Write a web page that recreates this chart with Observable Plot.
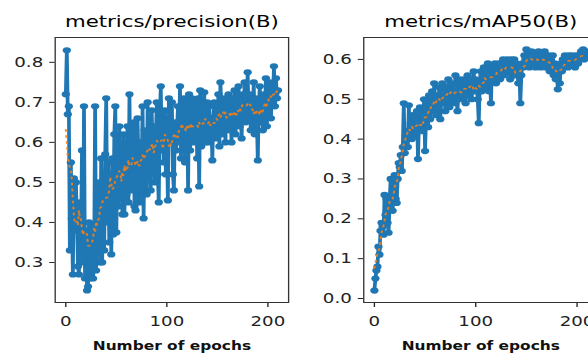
<!DOCTYPE html>
<html>
<head>
<meta charset="utf-8">
<script src="https://cdn.jsdelivr.net/npm/d3@7"></script>
<script src="https://cdn.jsdelivr.net/npm/@observablehq/plot@0.6"></script>
<style>
  html, body { margin: 0; padding: 0; background: #fff; overflow: hidden; width: 588px; height: 358px; }
  #wrap { position: absolute; left: 0; top: 0; width: 480px; height: 358px; transform: scaleX(1.33); transform-origin: 0 0; }
  .panel { position: absolute; top: 0; width: 230px; height: 358px; }
  .panel svg { max-width: none !important; }
</style>
</head>
<body>
<div id="wrap">
  <div class="panel" id="p1" style="left:0px"></div>
  <div class="panel" id="p2" style="left:230px"></div>
</div>
<script>
const titles = ["metrics/precision(B)", "metrics/mAP50(B)"];
const xLabel = "Number of epochs";
const xTicks = [0, 100, 200];
const precisionTicks = [0.3, 0.4, 0.5, 0.6, 0.7, 0.8];
const map50Ticks = [0.0, 0.1, 0.2, 0.3, 0.4, 0.5, 0.6];

const precision = [
  0.72, 0.83, 0.67, 0.69, 0.33, 0.55, 0.41, 0.27, 0.51, 0.38,
  0.50, 0.41, 0.29, 0.27, 0.45, 0.36, 0.58, 0.30, 0.69, 0.26,
  0.38, 0.23, 0.24, 0.40, 0.26, 0.39, 0.35, 0.26, 0.30, 0.69,
  0.28, 0.45, 0.35, 0.50, 0.30, 0.56, 0.30, 0.47, 0.33, 0.57,
  0.71, 0.40, 0.55, 0.35, 0.52, 0.32, 0.56, 0.37, 0.62, 0.69,
  0.375, 0.55, 0.44, 0.64, 0.46, 0.58, 0.42, 0.62, 0.42, 0.55,
  0.47, 0.64, 0.45, 0.72, 0.48, 0.60, 0.52, 0.65, 0.44, 0.43,
  0.58, 0.66, 0.55, 0.45, 0.60, 0.52, 0.69, 0.41, 0.63, 0.57,
  0.47, 0.70, 0.55, 0.62, 0.48, 0.68, 0.58, 0.64, 0.50, 0.60,
  0.70, 0.52, 0.45, 0.66, 0.74, 0.58, 0.64, 0.55, 0.68, 0.52,
  0.62, 0.455, 0.71, 0.66, 0.60, 0.70, 0.52, 0.48, 0.65, 0.58,
  0.63, 0.69, 0.60, 0.74, 0.56, 0.67, 0.62, 0.71, 0.55, 0.65,
  0.70, 0.48, 0.72, 0.58, 0.66, 0.71, 0.60, 0.68, 0.64, 0.70,
  0.56, 0.71, 0.49, 0.73, 0.59, 0.68, 0.64, 0.725, 0.60, 0.67,
  0.70, 0.60, 0.69, 0.62, 0.66, 0.555, 0.66, 0.70, 0.61, 0.68,
  0.64, 0.72, 0.59, 0.75, 0.69, 0.62, 0.67, 0.71, 0.60, 0.70,
  0.66, 0.72, 0.63, 0.68, 0.60, 0.71, 0.65, 0.73, 0.62, 0.69,
  0.67, 0.74, 0.64, 0.70, 0.61, 0.72, 0.68, 0.75, 0.65, 0.71,
  0.775, 0.66, 0.72, 0.63, 0.70, 0.68, 0.75, 0.62, 0.71, 0.66,
  0.555, 0.69, 0.74, 0.65, 0.70, 0.63, 0.72, 0.67, 0.76, 0.64,
  0.71, 0.68, 0.75, 0.66, 0.73, 0.70, 0.79, 0.69, 0.76, 0.71, 0.73
];

const map50 = [
  0.02, 0.05, 0.07, 0.08, 0.13, 0.11, 0.17, 0.19, 0.18, 0.16,
  0.26, 0.21, 0.25, 0.19, 0.165, 0.24, 0.30, 0.26, 0.22, 0.27,
  0.31, 0.25, 0.24, 0.30, 0.34, 0.33, 0.36, 0.32, 0.38, 0.49,
  0.365, 0.40, 0.42, 0.38, 0.485, 0.41, 0.44, 0.40, 0.46, 0.43,
  0.45, 0.41, 0.47, 0.35, 0.44, 0.48, 0.43, 0.46, 0.42, 0.50,
  0.37, 0.46, 0.49, 0.43, 0.51, 0.45, 0.48, 0.52, 0.47, 0.54,
  0.49, 0.46, 0.51, 0.48, 0.53, 0.45, 0.50, 0.54, 0.49, 0.52,
  0.47, 0.53, 0.50, 0.55, 0.48, 0.52, 0.51, 0.54, 0.49, 0.53,
  0.56, 0.50, 0.47, 0.52, 0.55, 0.50, 0.53, 0.51, 0.55, 0.52,
  0.49, 0.54, 0.56, 0.51, 0.53, 0.55, 0.50, 0.54, 0.57, 0.52,
  0.55, 0.53, 0.50, 0.44, 0.54, 0.57, 0.52, 0.56, 0.58, 0.53,
  0.57, 0.55, 0.59, 0.52, 0.56, 0.49, 0.58, 0.55, 0.57, 0.59,
  0.54, 0.57, 0.56, 0.59, 0.55, 0.58, 0.57, 0.60, 0.56, 0.59,
  0.58, 0.60, 0.57, 0.59, 0.55, 0.60, 0.58, 0.57, 0.60, 0.56,
  0.59, 0.57, 0.54, 0.58, 0.49, 0.56, 0.59, 0.58, 0.61, 0.60,
  0.625, 0.59, 0.61, 0.58, 0.60, 0.62, 0.59, 0.61, 0.60, 0.58,
  0.61, 0.59, 0.62, 0.60, 0.58, 0.61, 0.59, 0.60, 0.62, 0.58,
  0.60, 0.59, 0.61, 0.57, 0.60, 0.58, 0.61, 0.56, 0.59, 0.55,
  0.58, 0.525, 0.57, 0.54, 0.59, 0.57, 0.60, 0.58, 0.61, 0.59,
  0.60, 0.58, 0.61, 0.59, 0.60, 0.61, 0.59, 0.60, 0.58, 0.61,
  0.60, 0.59, 0.61, 0.60, 0.62, 0.61, 0.625, 0.60, 0.61, 0.62, 0.61
];

const epochs = d3.range(precision.length);

function panel(values, title, yDomain, yTicks, mL, mR) {
  const data = epochs.map((e, i) => ({epoch: e, value: values[i]}));
  return Plot.plot({
    width: 230,
    height: 358,
    marginLeft: mL,
    marginRight: mR,
    marginTop: 37,
    marginBottom: 56,
    style: {fontFamily: "DejaVu Sans", fontSize: "13.7px", color: "#222", background: "transparent", overflow: "visible", maxWidth: "none"},
    x: {domain: [-10.5, 220.5], ticks: xTicks, tickSize: 5, tickPadding: 9, label: null},
    y: {domain: yDomain, ticks: yTicks, tickFormat: ".1f", tickSize: 4, tickPadding: 5, label: null},
    marks: [
      Plot.lineY(data, {x: "epoch", y: "value", stroke: "#1f77b4", strokeWidth: 2.8}),
      Plot.dot(data, {x: "epoch", y: "value", fill: "#1f77b4", r: 3.1, stroke: "none"}),
      Plot.lineY(data, Plot.windowY({k: 11, reduce: "mean"}, {x: "epoch", y: "value", stroke: "#ff7f0e", strokeWidth: 1.6, strokeDasharray: "1.5,4.5", strokeOpacity: 0.85})),
      Plot.frame({stroke: "#333", strokeWidth: 1}),
      Plot.text([title], {frameAnchor: "top", dy: -21.4, lineAnchor: "top", fontSize: 16, fill: "#000"}),
      Plot.text([xLabel], {frameAnchor: "bottom", dy: 39.5, lineAnchor: "top", fontSize: 11.6, fontWeight: "bold", fill: "#111"})
    ]
  });
}

document.getElementById("p1").appendChild(panel(precision, titles[0], [0.2, 0.862], precisionTicks, 41, 13.5));
document.getElementById("p2").appendChild(panel(map50, titles[1], [-0.01, 0.655], map50Ticks, 43, 11));
</script>
</body>
</html>
